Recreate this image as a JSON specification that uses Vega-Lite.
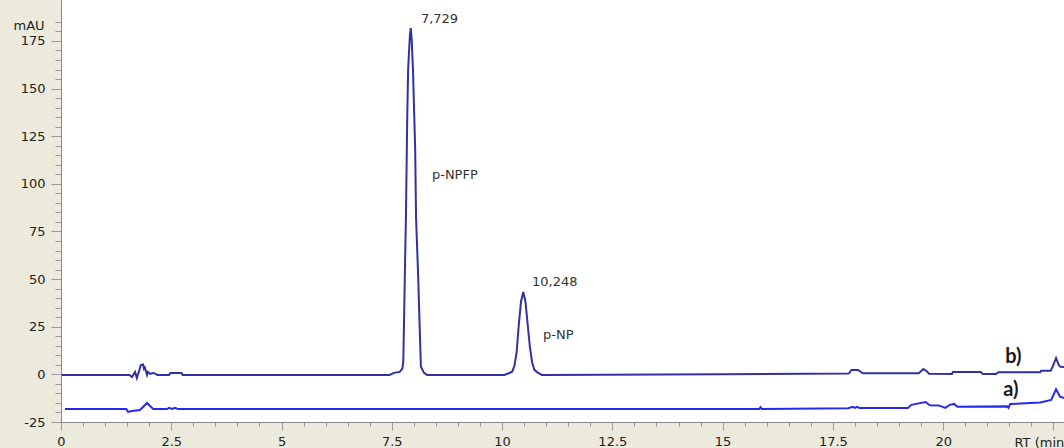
{
  "$schema": "https://vega.github.io/schema/vega-lite/v6.json",
  "width": 1003,
  "height": 422,
  "autosize": {"type": "none"},
  "padding": {"left": 61, "top": 0, "right": 0, "bottom": 26},
  "background": "#ECEADC",
  "view": {"fill": "white", "stroke": null},
  "config": {"font": "DejaVu Sans"},
  "resolve": {"axis": {"x": "independent", "y": "independent"}},
  "datasets": {
    "traces": [
      {"t": 0.02, "v": -0.3, "s": "b"},
      {"t": 1.55, "v": -0.3, "s": "b"},
      {"t": 1.61, "v": -1.4, "s": "b"},
      {"t": 1.68, "v": 1.3, "s": "b"},
      {"t": 1.72, "v": -1.9, "s": "b"},
      {"t": 1.78, "v": 2.5, "s": "b"},
      {"t": 1.81, "v": 4.9, "s": "b"},
      {"t": 1.86, "v": 5.2, "s": "b"},
      {"t": 1.88, "v": 3.0, "s": "b"},
      {"t": 1.9, "v": 3.6, "s": "b"},
      {"t": 1.95, "v": -0.3, "s": "b"},
      {"t": 1.97, "v": 1.3, "s": "b"},
      {"t": 2.02, "v": 0.2, "s": "b"},
      {"t": 2.09, "v": 0.7, "s": "b"},
      {"t": 2.15, "v": 0.3, "s": "b"},
      {"t": 2.18, "v": -0.3, "s": "b"},
      {"t": 2.45, "v": -0.3, "s": "b"},
      {"t": 2.48, "v": 0.7, "s": "b"},
      {"t": 2.73, "v": 0.7, "s": "b"},
      {"t": 2.76, "v": -0.3, "s": "b"},
      {"t": 7.45, "v": -0.3, "s": "b"},
      {"t": 7.55, "v": 0.8, "s": "b"},
      {"t": 7.68, "v": 1.3, "s": "b"},
      {"t": 7.74, "v": 3.0, "s": "b"},
      {"t": 7.76, "v": 6.5, "s": "b"},
      {"t": 7.78, "v": 31, "s": "b"},
      {"t": 7.8, "v": 58, "s": "b"},
      {"t": 7.82, "v": 82, "s": "b"},
      {"t": 7.85, "v": 135, "s": "b"},
      {"t": 7.87, "v": 160, "s": "b"},
      {"t": 7.91, "v": 178, "s": "b"},
      {"t": 7.93, "v": 181.8, "s": "b"},
      {"t": 7.95, "v": 176, "s": "b"},
      {"t": 7.98, "v": 160, "s": "b"},
      {"t": 8.03, "v": 118, "s": "b"},
      {"t": 8.05, "v": 82, "s": "b"},
      {"t": 8.1, "v": 50, "s": "b"},
      {"t": 8.14, "v": 18.5, "s": "b"},
      {"t": 8.16, "v": 4, "s": "b"},
      {"t": 8.23, "v": 0.8, "s": "b"},
      {"t": 8.3, "v": -0.3, "s": "b"},
      {"t": 10.05, "v": -0.3, "s": "b"},
      {"t": 10.15, "v": 0.6, "s": "b"},
      {"t": 10.23, "v": 1.4, "s": "b"},
      {"t": 10.28, "v": 4.5, "s": "b"},
      {"t": 10.33, "v": 11.5, "s": "b"},
      {"t": 10.38, "v": 26.3, "s": "b"},
      {"t": 10.43, "v": 38.3, "s": "b"},
      {"t": 10.48, "v": 43.3, "s": "b"},
      {"t": 10.53, "v": 38.3, "s": "b"},
      {"t": 10.58, "v": 26.3, "s": "b"},
      {"t": 10.63, "v": 14.5, "s": "b"},
      {"t": 10.68, "v": 6.5, "s": "b"},
      {"t": 10.73, "v": 2.5, "s": "b"},
      {"t": 10.8, "v": 1.0, "s": "b"},
      {"t": 10.9, "v": -0.3, "s": "b"},
      {"t": 15.0, "v": 0.0, "s": "b"},
      {"t": 17.85, "v": 0.5, "s": "b"},
      {"t": 17.87, "v": 0.6, "s": "b"},
      {"t": 17.92, "v": 2.3, "s": "b"},
      {"t": 18.07, "v": 2.3, "s": "b"},
      {"t": 18.18, "v": 0.6, "s": "b"},
      {"t": 19.45, "v": 0.6, "s": "b"},
      {"t": 19.55, "v": 2.8, "s": "b"},
      {"t": 19.62, "v": 1.8, "s": "b"},
      {"t": 19.68, "v": 0.3, "s": "b"},
      {"t": 20.2, "v": 0.2, "s": "b"},
      {"t": 20.22, "v": 1.3, "s": "b"},
      {"t": 20.85, "v": 1.3, "s": "b"},
      {"t": 20.9, "v": 0.2, "s": "b"},
      {"t": 21.2, "v": 0.2, "s": "b"},
      {"t": 21.25, "v": 1.1, "s": "b"},
      {"t": 22.2, "v": 1.1, "s": "b"},
      {"t": 22.22, "v": 1.9, "s": "b"},
      {"t": 22.44, "v": 1.9, "s": "b"},
      {"t": 22.5, "v": 5.0, "s": "b"},
      {"t": 22.56, "v": 8.6, "s": "b"},
      {"t": 22.62, "v": 5.0, "s": "b"},
      {"t": 22.66, "v": 4.0, "s": "b"},
      {"t": 22.74, "v": 3.9, "s": "b"},
      {"t": 0.09, "v": -18.2, "s": "a"},
      {"t": 1.48, "v": -18.2, "s": "a"},
      {"t": 1.52, "v": -19.7, "s": "a"},
      {"t": 1.61, "v": -19.2, "s": "a"},
      {"t": 1.79, "v": -18.7, "s": "a"},
      {"t": 1.86, "v": -17.1, "s": "a"},
      {"t": 1.95, "v": -15.0, "s": "a"},
      {"t": 2.02, "v": -16.6, "s": "a"},
      {"t": 2.09, "v": -18.2, "s": "a"},
      {"t": 2.4, "v": -18.2, "s": "a"},
      {"t": 2.45, "v": -17.6, "s": "a"},
      {"t": 2.52, "v": -18.2, "s": "a"},
      {"t": 2.59, "v": -17.6, "s": "a"},
      {"t": 2.65, "v": -18.2, "s": "a"},
      {"t": 15.83, "v": -18.2, "s": "a"},
      {"t": 15.86, "v": -17.2, "s": "a"},
      {"t": 15.89, "v": -18.2, "s": "a"},
      {"t": 17.85, "v": -17.8, "s": "a"},
      {"t": 17.95, "v": -17.0, "s": "a"},
      {"t": 18.0, "v": -17.6, "s": "a"},
      {"t": 18.05, "v": -17.0, "s": "a"},
      {"t": 18.1, "v": -17.6, "s": "a"},
      {"t": 19.2, "v": -17.6, "s": "a"},
      {"t": 19.28, "v": -16.0, "s": "a"},
      {"t": 19.6, "v": -14.5, "s": "a"},
      {"t": 19.7, "v": -16.2, "s": "a"},
      {"t": 19.9, "v": -16.3, "s": "a"},
      {"t": 20.05, "v": -17.6, "s": "a"},
      {"t": 20.15, "v": -16.0, "s": "a"},
      {"t": 20.25, "v": -15.5, "s": "a"},
      {"t": 20.32, "v": -17.0, "s": "a"},
      {"t": 21.45, "v": -16.8, "s": "a"},
      {"t": 21.48, "v": -17.6, "s": "a"},
      {"t": 21.52, "v": -15.6, "s": "a"},
      {"t": 22.2, "v": -14.8, "s": "a"},
      {"t": 22.45, "v": -13.4, "s": "a"},
      {"t": 22.56, "v": -7.8, "s": "a"},
      {"t": 22.65, "v": -11.7, "s": "a"},
      {"t": 22.74, "v": -12.4, "s": "a"}
    ],
    "labels": [
      {"t": 8.16, "v": 186.5, "label": "7,729", "kind": "note"},
      {"t": 8.41, "v": 104.6, "label": "p-NPFP", "kind": "note"},
      {"t": 10.68, "v": 48.5, "label": "10,248", "kind": "note"},
      {"t": 10.93, "v": 20.7, "label": "p-NP", "kind": "note"},
      {"t": 21.41, "v": 9.1, "label": "b)", "kind": "trace"},
      {"t": 21.36, "v": -8.2, "label": "a)", "kind": "trace"}
    ]
  },
  "layer": [
    {
      "data": {"name": "labels"},
      "transform": [{"filter": "datum.kind === 'note'"}],
      "mark": {"type": "text", "align": "left", "baseline": "middle", "font": "DejaVu Sans", "fontSize": 13, "color": "#333333"},
      "encoding": {
        "x": {
          "field": "t",
          "type": "quantitative",
          "scale": {"domain": [0, 22.74], "nice": false, "zero": false},
          "axis": {
            "orient": "bottom",
            "values": [0,0.5,1,1.5,2,2.5,3,3.5,4,4.5,5,5.5,6,6.5,7,7.5,8,8.5,9,9.5,10,10.5,11,11.5,12,12.5,13,13.5,14,14.5,15,15.5,16,16.5,17,17.5,18,18.5,19,19.5,20,20.5,21,21.5,22,22.5],
            "labels": false,
            "tickSize": 4,
            "tickColor": "#999999",
            "domainColor": "#8a8a8a",
            "grid": false,
            "title": null
          }
        },
        "y": {
          "field": "v",
          "type": "quantitative",
          "scale": {"domain": [-25, 196.5], "nice": false, "zero": false},
          "axis": {
            "orient": "left",
            "values": [-25,-20,-15,-10,-5,0,5,10,15,20,25,30,35,40,45,50,55,60,65,70,75,80,85,90,95,100,105,110,115,120,125,130,135,140,145,150,155,160,165,170,175,180,185],
            "labels": false,
            "tickSize": 6,
            "tickColor": "#999999",
            "domainColor": "#8a8a8a",
            "grid": false,
            "title": null
          }
        },
        "text": {"field": "label"}
      }
    },
    {
      "data": {"name": "traces"},
      "mark": {"type": "line", "strokeWidth": 2, "clip": true, "interpolate": "linear"},
      "encoding": {
        "x": {
          "field": "t",
          "type": "quantitative",
          "axis": {
            "orient": "bottom",
            "values": [0,2.5,5,7.5,10,12.5,15,17.5,20,22.5],
            "labelExpr": "datum.value < 22 ? format(datum.value, '~g') : ''",
            "tickSize": 8,
            "tickColor": "#999999",
            "domainColor": "#8a8a8a",
            "labelColor": "#222222",
            "labelFont": "DejaVu Sans",
            "labelFontSize": 13,
            "labelPadding": 5,
            "labelFlush": false,
            "labelOverlap": false,
            "grid": false,
            "title": "RT (min)",
            "titleFont": "DejaVu Sans",
            "titleFontSize": 13,
            "titleFontWeight": "normal",
            "titleColor": "#222222",
            "titleAlign": "left",
            "titleBaseline": "middle",
            "titleX": 953,
            "titleY": 20
          }
        },
        "y": {
          "field": "v",
          "type": "quantitative",
          "axis": {
            "orient": "left",
            "values": [-25,0,25,50,75,100,125,150,175],
            "labelExpr": "'' + datum.value",
            "tickSize": 10,
            "tickColor": "#999999",
            "domainColor": "#8a8a8a",
            "labelColor": "#222222",
            "labelFont": "DejaVu Sans",
            "labelFontSize": 13,
            "labelPadding": 6,
            "labelOverlap": false,
            "labelFlush": false,
            "grid": false,
            "title": "mAU",
            "titleFont": "DejaVu Sans",
            "titleFontSize": 13,
            "titleFontWeight": "normal",
            "titleColor": "#222222",
            "titleAngle": 0,
            "titleAlign": "left",
            "titleBaseline": "middle",
            "titleX": -48,
            "titleY": 25
          }
        },
        "color": {
          "field": "s",
          "type": "nominal",
          "scale": {"domain": ["a", "b"], "range": ["#2828F0", "#31319F"]},
          "legend": null
        }
      }
    },
    {
      "data": {"name": "labels"},
      "transform": [{"filter": "datum.kind === 'trace'"}],
      "mark": {"type": "text", "align": "left", "baseline": "middle", "font": "Lato", "fontWeight": "bold", "fontSize": 20, "color": "#1a1a1a"},
      "encoding": {
        "x": {"field": "t", "type": "quantitative", "axis": null},
        "y": {"field": "v", "type": "quantitative", "axis": null},
        "text": {"field": "label"}
      }
    }
  ]
}
